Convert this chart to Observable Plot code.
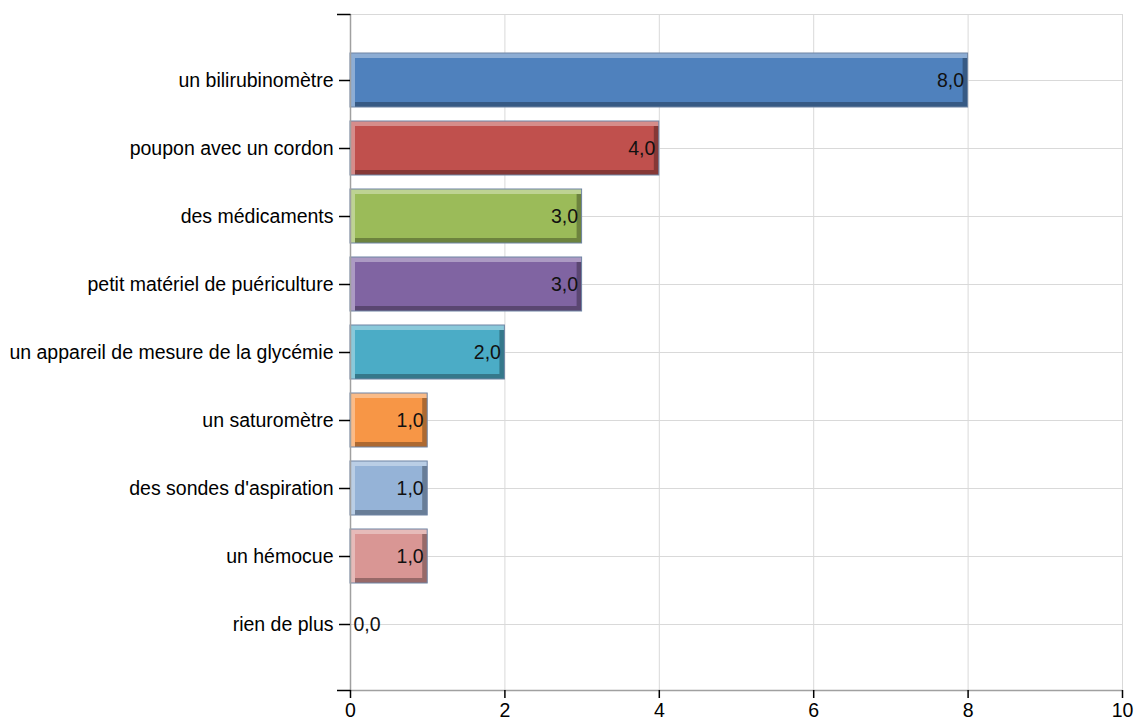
<!DOCTYPE html>
<html><head><meta charset="utf-8">
<script src="https://cdn.jsdelivr.net/npm/d3@7"></script>
<script src="https://cdn.jsdelivr.net/npm/@observablehq/plot@0.6"></script>
<style>
html,body{margin:0;padding:0;background:#fff;}
</style>
</head><body><div id="chart"></div>
<script>
const categories = [
  "un bilirubinomètre",
  "poupon avec un cordon",
  "des médicaments",
  "petit matériel de puériculture",
  "un appareil de mesure de la glycémie",
  "un saturomètre",
  "des sondes d'aspiration",
  "un hémocue",
  "rien de plus"
];
const values = [8, 4, 3, 3, 2, 1, 1, 1, 0];
const colors = ["#4F81BD", "#C0504D", "#9BBB59", "#8064A2", "#4BACC6", "#F79646", "#95B3D7", "#D99694", "#4F81BD"];
const xTicks = [0, 2, 4, 6, 8, 10];

const data = categories.map((c, i) => ({
  category: c,
  value: values[i],
  color: colors[i],
  light: d3.interpolateRgb(colors[i], "#ffffff")(0.35),
  dark: d3.interpolateRgb(colors[i], "#000000")(0.3)
}));
const bars = data.filter(d => d.value > 0);
const zeros = data.filter(d => d.value === 0);
const fmt = v => v.toFixed(1).replace(".", ",");

const FONT = "'Liberation Sans', Arial, sans-serif";
const FS = 19.5;

function edgeMark(...args) {
  const dim = args.find(a => a && a.marginLeft !== undefined && a.width !== undefined);
  const g = d3.create("svg:g");
  const x0 = dim.marginLeft, x1 = dim.width - dim.marginRight;
  const y0 = dim.marginTop, y1 = dim.height - dim.marginBottom;
  g.append("line").attr("x1", x0 + 0.5).attr("x2", x0 + 0.5).attr("y1", y0).attr("y2", y1)
    .attr("stroke", "#a0a0a0").attr("stroke-width", 1.5);
  g.append("line").attr("x1", x0).attr("x2", x1).attr("y1", y1 + 0.5).attr("y2", y1 + 0.5)
    .attr("stroke", "#a0a0a0").attr("stroke-width", 1.5);
  for (const y of [y0, y1]) {
    g.append("line").attr("x1", x0 - 13).attr("x2", x0 + 0.5).attr("y1", y + 0.5).attr("y2", y + 0.5)
      .attr("stroke", "#000").attr("stroke-width", 1.5);
  }
  return g.node();
}

const chart = Plot.plot({
  width: 1135,
  height: 720,
  marginLeft: 350,
  marginRight: 13,
  marginTop: 14,
  marginBottom: 30,
  style: {fontFamily: FONT, fontSize: FS + "px", color: "#000", background: "#fff"},
  x: {domain: [0, 10], label: null},
  y: {domain: categories, paddingInner: 0.2, paddingOuter: 0.57, label: null},
  color: {type: "identity"},
  marks: [
    Plot.frame({stroke: "#d9d9d9"}),
    Plot.gridX({ticks: xTicks, stroke: "#d9d9d9", strokeOpacity: 1}),
    Plot.gridY({stroke: "#d9d9d9", strokeOpacity: 1}),
    Plot.barX(bars, {y: "category", x: "value", fill: "light"}),
    Plot.barX(bars, {y: "category", x: "value", fill: "dark", insetTop: 5, insetLeft: 5}),
    Plot.barX(bars, {y: "category", x: "value", fill: "color", insetTop: 5, insetLeft: 5, insetBottom: 5, insetRight: 5}),
    Plot.barX(bars, {y: "category", x: "value", fill: "none", stroke: "#6e84a3", strokeWidth: 1}),
    edgeMark,
    Plot.axisY({tickSize: 11, tickPadding: 6, fontSize: FS, stroke: "#000", strokeWidth: 1.5, label: null}),
    Plot.axisX({ticks: xTicks, tickSize: 8, tickPadding: 5, fontSize: FS, stroke: "#000", strokeWidth: 1.5, tickFormat: d => d, label: null}),
    Plot.text(bars, {y: "category", x: "value", text: d => fmt(d.value), textAnchor: "end", dx: -4, fontSize: FS, fill: "#111"}),
    Plot.text(zeros, {y: "category", x: "value", text: d => fmt(d.value), textAnchor: "start", dx: 3, fontSize: FS, fill: "#111"})
  ]
});
document.getElementById("chart").appendChild(chart);
</script>
</body></html>
